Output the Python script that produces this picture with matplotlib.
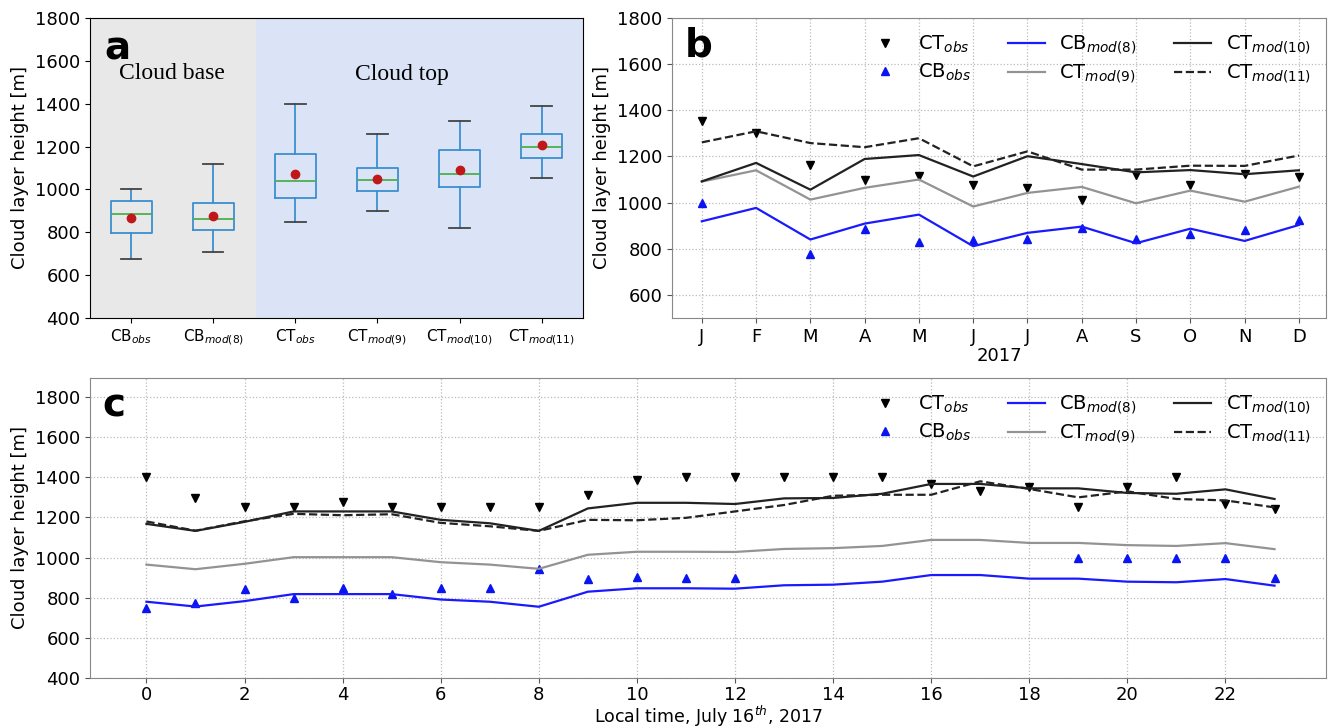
import numpy as np
import matplotlib
matplotlib.use("Agg")
import matplotlib.pyplot as plt

# ---- panel a: box statistics ----
box_labels = [r'CB$_{\mathit{obs}}$', r'CB$_{\mathit{mod(8)}}$', r'CT$_{\mathit{obs}}$',
              r'CT$_{\mathit{mod(9)}}$', r'CT$_{\mathit{mod(10)}}$', r'CT$_{\mathit{mod(11)}}$']
box_whislo = [673, 706, 848, 898, 821, 1052]
box_q1 = [798, 812, 962, 991, 1010, 1146]
box_med = [885, 862, 1041, 1043, 1074, 1196]
box_q3 = [946, 937, 1166, 1101, 1183, 1260]
box_whishi = [1000, 1118, 1399, 1260, 1321, 1390]
box_mean = [868, 876, 1071, 1048, 1090, 1208]

# ---- panel b: monthly values, 2017 ----
months = ['J', 'F', 'M', 'A', 'M', 'J', 'J', 'A', 'S', 'O', 'N', 'D']
m_ct_obs = [1355, 1302, 1165, 1098, 1117, 1078, 1062, 1013, 1118, 1075, 1124, 1111]
m_cb_obs = [1000, np.nan, 779, 886, 830, 840, 843, 889, 843, 864, 882, 926]
m_cb_mod8 = [919, 977, 840, 909, 948, 811, 869, 896, 824, 887, 834, 903]
m_ct_mod9 = [1091, 1140, 1013, 1064, 1100, 983, 1042, 1068, 997, 1052, 1004, 1069]
m_ct_mod10 = [1092, 1172, 1056, 1189, 1206, 1113, 1201, 1167, 1131, 1141, 1123, 1140]
m_ct_mod11 = [1261, 1309, 1258, 1240, 1279, 1157, 1222, 1143, 1143, 1160, 1159, 1204]

# ---- panel c: hourly values, 16 July 2017 ----
hours = list(range(24))
h_ct_obs = [1400, 1295, 1250, 1250, 1278, 1250, 1250, 1250, 1250, 1312, 1387, 1400,
            1400, 1400, 1400, 1400, 1367, 1330, 1352, 1252, 1352, 1400, 1268, 1242]
h_cb_obs = [751, 776, 843, 801, 850, 818, 850, 850, 942, 892, 902, 900,
            900, np.nan, np.nan, np.nan, np.nan, np.nan, np.nan, 1000, 1000, 1000, 1000, 900]
h_cb_mod8 = [780, 756, 783, 818, 818, 818, 791, 780, 755, 830, 847, 847,
             845, 862, 865, 880, 913, 913, 895, 895, 880, 877, 893, 860]
h_ct_mod9 = [965, 942, 969, 1002, 1002, 1002, 977, 965, 944, 1014, 1029, 1029,
             1028, 1043, 1047, 1058, 1088, 1088, 1073, 1073, 1062, 1058, 1072, 1042]
h_ct_mod10 = [1168, 1133, 1178, 1230, 1230, 1230, 1188, 1171, 1133, 1245, 1273, 1273,
              1267, 1295, 1297, 1318, 1367, 1367, 1345, 1345, 1322, 1318, 1340, 1292]
h_ct_mod11 = [1180, 1134, 1181, 1218, 1211, 1216, 1173, 1156, 1133, 1188, 1186, 1198,
              1230, 1262, 1308, 1313, 1313, 1380, 1342, 1300, 1330, 1292, 1285, 1250]

plt.rcParams['font.family'] = 'DejaVu Sans'
plt.rcParams['mathtext.fontset'] = 'dejavusans'

fig = plt.figure(figsize=(13.28, 7.28), dpi=100)
ax_a = fig.add_axes([0.0678, 0.5632, 0.371, 0.4121])
ax_b = fig.add_axes([0.506, 0.5632, 0.4925, 0.4121])
ax_c = fig.add_axes([0.0678, 0.0687, 0.9307, 0.4121])

# panel a
ax_a.axvspan(0.5, 2.52, color='#e8e8e8', zorder=0)
ax_a.axvspan(2.52, 6.5, color='#dbe3f6', zorder=0)
stats = []
for i in range(len(box_labels)):
    stats.append(dict(whislo=box_whislo[i], q1=box_q1[i], med=box_med[i], q3=box_q3[i],
                      whishi=box_whishi[i], mean=box_mean[i], fliers=[], label=box_labels[i]))
ax_a.bxp(stats, positions=range(1, 7), widths=0.5, showmeans=True,
         boxprops=dict(color='#3b8fd0', lw=1.3),
         whiskerprops=dict(color='#3b8fd0', lw=1.3),
         capprops=dict(color='#444444', lw=1.3),
         medianprops=dict(color='#4caf50', lw=1.3),
         meanprops=dict(marker='o', markerfacecolor='#c0181a', markeredgecolor='#c0181a', markersize=6))
ax_a.set_xlim(0.5, 6.5)
ax_a.set_ylim(400, 1800)
ax_a.set_yticks(range(400, 1801, 200))
ax_a.tick_params(axis='y', labelsize=13)
ax_a.tick_params(axis='x', labelsize=11)
ax_a.set_ylabel('Cloud layer height [m]', fontsize=13)
ax_a.text(1.5, 1543, 'Cloud base', family='Liberation Serif', fontsize=17, ha='center', va='center')
ax_a.text(4.3, 1535, 'Cloud top', family='Liberation Serif', fontsize=17, ha='center', va='center')
ax_a.text(0.03, 0.96, 'a', transform=ax_a.transAxes, fontsize=28, fontweight='bold', va='top', ha='left')


def draw_series(ax, x, ct_obs, cb_obs, cb8, ct9, ct10, ct11):
    ax.plot(x, ct_obs, 'v', color='black', ms=6, ls='none', label=r'CT$_{\mathit{obs}}$')
    ax.plot(x, cb_obs, '^', color='#0a14f0', ms=6, ls='none', label=r'CB$_{\mathit{obs}}$')
    ax.plot(x, cb8, '-', color='#1a1aff', lw=1.6, label=r'CB$_{\mathit{mod(8)}}$')
    ax.plot(x, ct9, '-', color='#939393', lw=1.6, label=r'CT$_{\mathit{mod(9)}}$')
    ax.plot(x, ct10, '-', color='#222222', lw=1.6, label=r'CT$_{\mathit{mod(10)}}$')
    ax.plot(x, ct11, '--', color='#222222', lw=1.6, label=r'CT$_{\mathit{mod(11)}}$')
    ax.grid(True, ls=':', color='#bbbbbb', lw=0.9)
    ax.set_axisbelow(True)
    for s in ax.spines.values():
        s.set_color('#888888')
    ax.tick_params(labelsize=13, color='#555555')
    ax.legend(loc='upper right', ncol=3, frameon=False, fontsize=14, columnspacing=1.9,
              handlelength=1.9, handletextpad=0.75, labelspacing=0.35, borderaxespad=0.4)
    ax.set_ylabel('Cloud layer height [m]', fontsize=13)


# panel b
xm = np.arange(len(months))
draw_series(ax_b, xm, m_ct_obs, m_cb_obs, m_cb_mod8, m_ct_mod9, m_ct_mod10, m_ct_mod11)
ax_b.set_xticks(xm)
ax_b.set_xticklabels(months)
ax_b.set_xlim(-0.55, 11.5)
ax_b.set_ylim(500, 1800)
ax_b.set_yticks(range(600, 1801, 200))
ax_b.set_xlabel('2017', fontsize=13, labelpad=1)
ax_b.text(0.02, 0.97, 'b', transform=ax_b.transAxes, fontsize=28, fontweight='bold', va='top', ha='left')

# panel c
draw_series(ax_c, hours, h_ct_obs, h_cb_obs, h_cb_mod8, h_ct_mod9, h_ct_mod10, h_ct_mod11)
ax_c.set_xticks(range(0, 23, 2))
ax_c.set_xlim(-1.15, 24.05)
ax_c.set_ylim(400, 1895)
ax_c.set_yticks(range(400, 1801, 200))
ax_c.tick_params(axis='x', pad=2)
ax_c.set_xlabel(r'Local time, July 16$^{th}$, 2017', fontsize=12.5, labelpad=0)
ax_c.text(0.01, 0.97, 'c', transform=ax_c.transAxes, fontsize=28, fontweight='bold', va='top', ha='left')

fig.savefig('out.png', dpi=100)
